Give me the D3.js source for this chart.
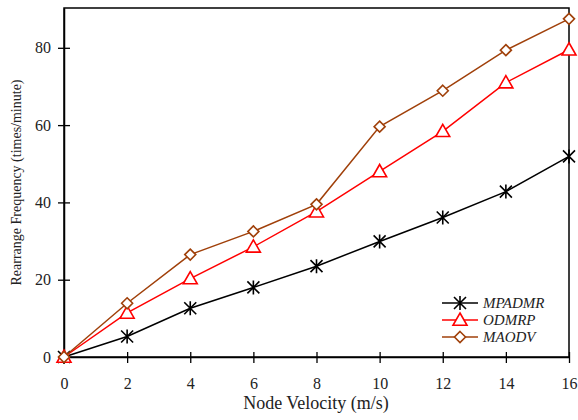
<!DOCTYPE html>
<html>
<head>
<meta charset="utf-8">
<script src="https://cdn.jsdelivr.net/npm/d3@7"></script>
<style>
  body { margin: 0; background: #fff; }
  svg { display: block; }
  svg text { font-family: 'Liberation Serif', 'Times New Roman', Times, serif !important; }
</style>
</head>
<body>
<svg id="chart" width="578" height="420"></svg>
<script>
// ── Data ──────────────────────────────────────────────────────────────────────
const velocity = [0, 2, 4, 6, 8, 10, 12, 14, 16];
const mpadmr   = [0, 5.3, 12.6, 18, 23.5, 29.9, 36.1, 42.8, 51.9];
const odmrp    = [0, 11.4, 20.3, 28.5, 37.6, 48, 58.4, 71, 79.5];
const maodv    = [0, 13.9, 26.5, 32.5, 39.5, 59.6, 68.9, 79.4, 87.5];
const xTicks   = [0, 2, 4, 6, 8, 10, 12, 14, 16];
const yTicks   = [0, 20, 40, 60, 80];

const series = [
  { name: 'MPADMR', values: mpadmr, color: '#000000', marker: 'star' },
  { name: 'ODMRP',  values: odmrp,  color: '#ff0000', marker: 'triangle' },
  { name: 'MAODV',  values: maodv,  color: '#a0400a', marker: 'diamond' }
];

// ── Layout ────────────────────────────────────────────────────────────────────
const box = { left: 64, right: 569, top: 8, bottom: 357 };

const svg = d3.select('#chart');

const x = d3.scaleLinear().domain([0, 16]).range([box.left, box.right]);
const y = d3.scaleLinear().domain([0, 90.3]).range([box.bottom, box.top]);

// frame
svg.append('rect')
  .attr('x', box.left).attr('y', box.top)
  .attr('width', box.right - box.left).attr('height', box.bottom - box.top)
  .attr('fill', 'none').attr('stroke', '#000').attr('stroke-width', 1.5);

// axes
const xAxis = svg.append('g')
  .attr('transform', `translate(0,${box.bottom})`)
  .call(d3.axisBottom(x).tickValues(xTicks).tickSize(6).tickSizeOuter(0));
xAxis.select('.domain').attr('stroke-width', 1.5);
xAxis.selectAll('.tick line').attr('y1', -5).attr('y2', 6).attr('stroke-width', 1.3);
xAxis.selectAll('.tick text')
  .attr('y', 21).attr('dy', '0.71em')
  .attr('font-size', 16).attr('fill', '#222');

const yAxis = svg.append('g')
  .attr('transform', `translate(${box.left},0)`)
  .call(d3.axisLeft(y).tickValues(yTicks).tickSize(6).tickSizeOuter(0));
yAxis.select('.domain').attr('stroke-width', 1.5);
yAxis.selectAll('.tick line').attr('x1', 6).attr('x2', -6).attr('stroke-width', 1.3);
yAxis.selectAll('.tick text')
  .attr('x', -13)
  .attr('font-size', 16).attr('fill', '#222');

// axis titles
svg.append('text')
  .attr('x', (box.left + box.right) / 2 - 0.5).attr('y', 409)
  .attr('text-anchor', 'middle')
  .attr('font-size', 18).attr('fill', '#222')
  .text('Node Velocity (m/s)');

svg.append('text')
  .attr('transform', `translate(21,${(box.top + box.bottom) / 2}) rotate(-90)`)
  .attr('text-anchor', 'middle')
  .attr('font-size', 14).attr('fill', '#222')
  .text('Rearrange Frequency (times/minute)');

// ── Markers ───────────────────────────────────────────────────────────────────
function drawMarker(g, type, cx, cy, color) {
  if (type === 'star') {
    const r = 6;
    g.append('path')
      .attr('d', `M${cx - r},${cy - r}L${cx + r},${cy + r}M${cx - r},${cy + r}L${cx + r},${cy - r}` +
                 `M${cx},${cy - r - 1}L${cx},${cy + r + 1}`)
      .attr('stroke', color).attr('stroke-width', 1.6).attr('fill', 'none');
  } else if (type === 'triangle') {
    const r = 7;
    g.append('path')
      .attr('d', `M${cx},${cy - r}L${cx + r},${cy + r * 0.75}L${cx - r},${cy + r * 0.75}Z`)
      .attr('stroke', color).attr('stroke-width', 1.6).attr('fill', '#fff');
  } else {
    const r = 5.5;
    g.append('path')
      .attr('d', `M${cx},${cy - r}L${cx + r},${cy}L${cx},${cy + r}L${cx - r},${cy}Z`)
      .attr('stroke', color).attr('stroke-width', 1.6).attr('fill', '#fff');
  }
}

// ── Lines ─────────────────────────────────────────────────────────────────────
const line = d3.line()
  .x((d, i) => x(velocity[i]))
  .y(d => y(d));

series.forEach(s => {
  const g = svg.append('g');
  g.append('path')
    .datum(s.values)
    .attr('d', line)
    .attr('fill', 'none')
    .attr('stroke', s.color)
    .attr('stroke-width', 1.5);
  s.values.forEach((v, i) => drawMarker(g, s.marker, x(velocity[i]), y(v), s.color));
});

// ── Legend ────────────────────────────────────────────────────────────────────
series.forEach((s, i) => {
  const ly = 303 + i * 17;
  const g = svg.append('g');
  g.append('line')
    .attr('x1', 442).attr('x2', 478)
    .attr('y1', ly).attr('y2', ly)
    .attr('stroke', s.color).attr('stroke-width', 1.5);
  drawMarker(g, s.marker, 460, ly, s.color);
  g.append('text')
    .attr('x', 483).attr('y', ly).attr('dy', '0.35em')
    .attr('font-size', 15).attr('font-style', 'italic').attr('fill', '#222')
    .text(s.name);
});
</script>
</body>
</html>
